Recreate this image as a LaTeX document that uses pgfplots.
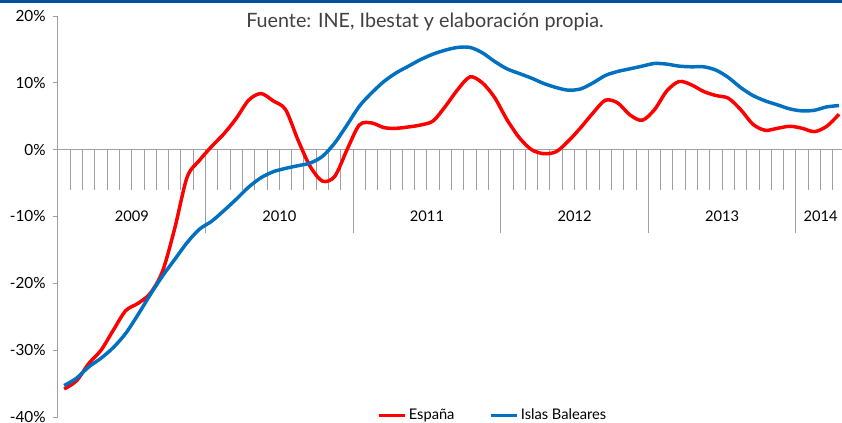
\documentclass[border=0pt]{standalone}
\usepackage{pgfplots}
\pgfplotsset{compat=1.18}
\usepackage{fontspec}
\setmainfont{Lato}

\definecolor{espana}{RGB}{255,0,0}
\definecolor{baleares}{RGB}{0,112,192}
\definecolor{topbar}{RGB}{0,80,160}
\definecolor{axisgray}{RGB}{160,160,160}
\definecolor{titlegray}{RGB}{64,64,64}

\begin{document}
\begin{tikzpicture}
\begin{axis}[
  scale only axis,
  width=590.4pt, height=300.75pt,
  xmin=0, xmax=64,
  ymin=-40, ymax=20,
  axis x line=none,
  axis y line*=left,
  axis line style={axisgray,line width=0.75pt},
  ytick={-40,-30,-20,-10,0,10,20},
  yticklabels={-40\%,-30\%,-20\%,-10\%,0\%,10\%,20\%},
  tick align=outside,
  major tick length=3.75pt,
  tick style={axisgray,line width=0.75pt},
  yticklabel style={font=\fontsize{11.5}{13}\selectfont,xshift=-2pt},
  clip=false,
  legend columns=2,
  legend style={at={(0.405,0.004)},anchor=west,draw=none,fill=none,
    font=\fontsize{11}{13}\selectfont,inner sep=0pt,
    /tikz/every even column/.append style={column sep=24pt}},
  legend image code/.code={\draw[#1,line width=2.3pt](0pt,0pt)--(19.5pt,0pt);},
]
% month ticks hanging from the zero line
\pgfplotsinvokeforeach{1,...,63}{
  \draw[axisgray,line width=0.75pt] (axis cs:#1,0) -- (axis cs:#1,-6.1);
}
\pgfplotsinvokeforeach{12,24,36,48,60}{
  \draw[axisgray,line width=0.75pt] (axis cs:#1,0) -- (axis cs:#1,-12.4);
}
\draw[axisgray,line width=0.75pt] (axis cs:0,0) -- (axis cs:64,0);
\node[font=\fontsize{11}{13}\selectfont] at (axis cs:6,-10) {2009};
\node[font=\fontsize{11}{13}\selectfont] at (axis cs:18,-10) {2010};
\node[font=\fontsize{11}{13}\selectfont] at (axis cs:30,-10) {2011};
\node[font=\fontsize{11}{13}\selectfont] at (axis cs:42,-10) {2012};
\node[font=\fontsize{11}{13}\selectfont] at (axis cs:54,-10) {2013};
\node[font=\fontsize{11}{13}\selectfont] at (axis cs:62,-10) {2014};

\addplot[espana,line width=2.6pt,smooth] coordinates {
  (0.5,-35.8) (1.5,-34.6) (2.5,-32.0) (3.5,-30.0) (4.5,-27.0) (5.5,-24.1)
  (6.5,-23.0) (7.5,-21.5) (8.5,-18.2) (9.5,-11.7) (10.5,-4.1) (11.5,-1.6)
  (12.5,0.5) (13.5,2.4) (14.5,4.7) (15.5,7.4) (16.5,8.4) (17.5,7.3)
  (18.5,6.0) (19.5,1.5) (20.5,-2.5) (21.5,-4.7) (22.5,-4.0) (23.5,0.0)
  (24.5,3.7) (25.5,4.0) (26.5,3.3) (27.5,3.2) (28.5,3.4) (29.5,3.7)
  (30.5,4.3) (31.5,6.5) (32.5,9.0) (33.5,10.9) (34.5,10.0) (35.5,7.8)
  (36.5,4.5) (37.5,1.8) (38.5,0.0) (39.5,-0.6) (40.5,-0.3) (41.5,1.3)
  (42.5,3.3) (43.5,5.5) (44.5,7.4) (45.5,7.0) (46.5,5.2) (47.5,4.4)
  (48.5,6.0) (49.5,8.8) (50.5,10.2) (51.5,9.7) (52.5,8.7) (53.5,8.1)
  (54.5,7.7) (55.5,6.0) (56.5,3.8) (57.5,2.9) (58.5,3.2) (59.5,3.5)
  (60.5,3.2) (61.5,2.7) (62.5,3.5) (63.5,5.3)};
\addlegendentry{España}
\addplot[baleares,line width=2.6pt,smooth] coordinates {
  (0.5,-35.3) (1.5,-34.2) (2.5,-32.5) (3.5,-31.2) (4.5,-29.6) (5.5,-27.5)
  (6.5,-24.7) (7.5,-21.7) (8.5,-18.9) (9.5,-16.4) (10.5,-13.9) (11.5,-11.9)
  (12.5,-10.7) (13.5,-9.1) (14.5,-7.4) (15.5,-5.6) (16.5,-4.2) (17.5,-3.3)
  (18.5,-2.8) (19.5,-2.4) (20.5,-2.0) (21.5,-1.0) (22.5,1.0) (23.5,3.7)
  (24.5,6.5) (25.5,8.5) (26.5,10.2) (27.5,11.5) (28.5,12.5) (29.5,13.5)
  (30.5,14.3) (31.5,14.9) (32.5,15.3) (33.5,15.3) (34.5,14.5) (35.5,13.2)
  (36.5,12.1) (37.5,11.4) (38.5,10.7) (39.5,9.9) (40.5,9.3) (41.5,8.9)
  (42.5,9.1) (43.5,10.0) (44.5,11.1) (45.5,11.7) (46.5,12.1) (47.5,12.5)
  (48.5,12.9) (49.5,12.8) (50.5,12.5) (51.5,12.4) (52.5,12.4) (53.5,11.9)
  (54.5,10.8) (55.5,9.3) (56.5,8.1) (57.5,7.3) (58.5,6.7) (59.5,6.1)
  (60.5,5.8) (61.5,5.9) (62.5,6.4) (63.5,6.6)};
\addlegendentry{Islas Baleares}
\end{axis}
\fill[topbar] (-43.5pt,310.5pt) rectangle (588pt,312.75pt);
\node[font=\fontsize{14.8}{17}\selectfont,text=titlegray] at (275.25pt,296pt)
  {Fuente: INE, Ibestat y elaboración propia.};
\pgfresetboundingbox
\useasboundingbox (-43.5pt,-3.75pt) rectangle (588pt,312.75pt);
\end{tikzpicture}
\end{document}
